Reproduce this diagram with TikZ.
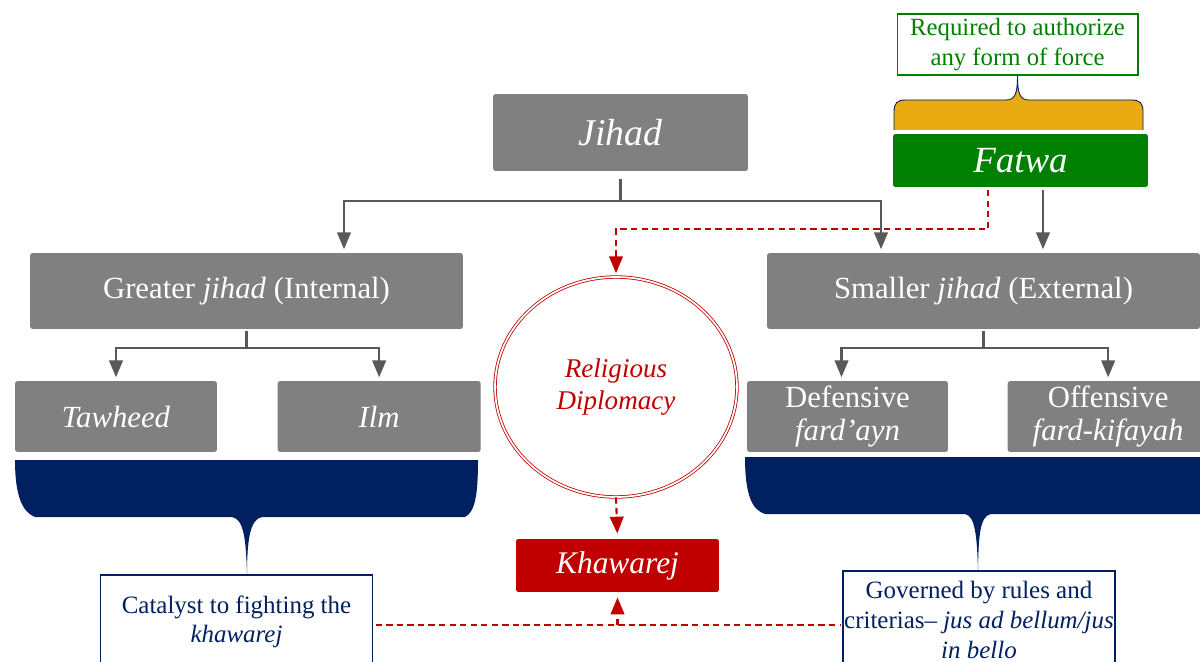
\documentclass[tikz,border=0pt]{standalone}
\usepackage{fontspec}
\setmainfont{Liberation Serif}
\usetikzlibrary{positioning,arrows,shapes.geometric,calc}
\definecolor{myGray}{RGB}{128,128,128}
\definecolor{myLine}{RGB}{89,89,89}
\definecolor{myGreen}{RGB}{0,128,0}
\definecolor{myRed}{RGB}{192,0,0}
\definecolor{myNavy}{RGB}{0,32,96}
\definecolor{myGold}{RGB}{234,171,18}
\tikzset{
  graybox/.style={fill=myGray, text=white, rounded corners=1.5pt, inner sep=0pt,
    align=center, font=\fontsize{17.5}{19}\selectfont},
  notebox/.style={draw=myNavy, line width=0.7pt, fill=white, text=myNavy, inner sep=0pt,
    align=center, font=\fontsize{14.2}{16.9}\selectfont},
  link/.style={myLine, line width=1.2pt},
  dashlink/.style={myRed, line width=1.2pt, dash pattern=on 3.6pt off 2.4pt},
  tip/.style={-triangle 45, shorten >=2pt}
}
\begin{document}
\begin{tikzpicture}[x=0.02cm, y=-0.02cm]
  \useasboundingbox (0,0) rectangle (1200,662);
  \clip (0,0) rectangle (1200,662);
  % top row
  \node[graybox, minimum width=5.1cm, minimum height=1.54cm,
    font=\fontsize{21.5}{24}\selectfont] (jihad) at (620.5,132.5) {\textit{Jihad}};
  \node[graybox, fill=myGreen, rounded corners=1pt, minimum width=5.1cm, minimum height=1.06cm,
    font=\fontsize{21}{24}\selectfont] (fatwa) at (1020.5,160.5) {\textit{Fatwa}};
  \node[draw=myGreen, line width=0.6pt, text=myGreen, inner sep=0pt, align=center,
    minimum width=4.82cm, minimum height=1.22cm, font=\fontsize{14.1}{17}\selectfont]
    (req) at (1017.5,44.5) {Required to authorize\\any form of force};
  % brace over the fatwa
  \filldraw[fill=myGold, draw=myNavy, line width=0.5pt]
    (894,130) -- (894,112) .. controls (894,103) and (897,100) .. (906,100)
    -- (1006,100) .. controls (1015,100) and (1017.5,94) .. (req.south)
    .. controls (1017.5,94) and (1020,100) .. (1029,100)
    -- (1131,100) .. controls (1140,100) and (1143,103) .. (1143,112) -- (1143,130);
  % second row
  \node[graybox, minimum width=8.66cm, minimum height=1.52cm] (greater) at (246.5,291)
    {Greater \textit{jihad} (Internal)};
  \node[graybox, minimum width=8.66cm, minimum height=1.52cm] (smaller) at (983.5,291)
    {Smaller \textit{jihad} (External)};
  % third row
  \node[graybox, minimum width=4.04cm, minimum height=1.42cm] (tawheed) at (116,416.5)
    {\textit{Tawheed}};
  \node[graybox, minimum width=4.06cm, minimum height=1.42cm, right=1.2cm of tawheed] (ilm)
    {\textit{Ilm}};
  \node[graybox, minimum width=4.02cm, minimum height=1.42cm] (defensive) at (847.5,416.5)
    {Defensive\\\textit{fard'ayn}};
  \node[graybox, minimum width=4.02cm, minimum height=1.42cm, right=1.18cm of defensive]
    (offensive) {Offensive\\\textit{fard-kifayah}};
  % centre column
  \node[ellipse, draw=myRed, double, double distance=1pt, line width=0.45pt,
    minimum width=4.84cm, minimum height=4.4cm, inner sep=0pt, align=center, text=myRed,
    font=\fontsize{15.4}{18.7}\selectfont] (relig) at (616,387) {\textit{Religious}\\\textit{Diplomacy}};
  \node[graybox, fill=myRed, rounded corners=1pt, minimum width=4.06cm, minimum height=1.06cm,
    font=\fontsize{17.9}{20}\selectfont] (khawarej) at (617.5,565.5) {\textit{Khawarej}};
  % notes at the bottom
  \node[notebox, minimum width=5.44cm, minimum height=1.88cm] (catalyst) at (236.5,622)
    {Catalyst to fighting the\\\textit{khawarej}};
  \node[notebox, minimum width=5.44cm, minimum height=1.96cm] (governed) at (979,620)
    {Governed by rules and\\criterias-- \textit{jus ad bellum/jus}\\\textit{in bello}};
  % navy braces
  \fill[myNavy] (15,460) -- (478,460) .. controls (478,495) and (475,512) .. (465,517)
    -- (262,517) .. controls (250,519) and (247,540) .. (247,575)
    .. controls (246,540) and (244,519) .. (232,517)
    -- (35,517) .. controls (22,512) and (15,495) .. (15,460) -- cycle;
  \fill[myNavy] (745,457) -- (1215,457) -- (1215,514)
    -- (991,514) .. controls (980,516) and (978.5,535) .. (978,571)
    .. controls (977,535) and (975,516) .. (965,514)
    -- (765,514) .. controls (752,510) and (745,495) .. (745,457) -- cycle;
  % gray connectors
  \draw[link, shorten <=4.5pt] (jihad.south) -- ++(0,30) coordinate (jfork);
  \draw[link, tip] (jfork) -| ($(greater.north)+(97.5,0)$);
  \draw[link, tip] (jfork) -| ($(smaller.north)+(-102.5,0)$);
  \draw[link, tip, shorten <=1.5pt] ($(fatwa.south)+(22.5,0)$) -- ($(fatwa.south |- smaller.north)+(22.5,0)$);
  \draw[link, shorten <=1pt] (greater.south) -- ++(0,19) coordinate (gfork);
  \draw[link, tip] (gfork) -| (tawheed.north);
  \draw[link, tip] (gfork) -| (ilm.north);
  \draw[link, shorten <=1pt] (smaller.south) -- ++(0,19) coordinate (sfork);
  \draw[link, tip] (sfork) -| ($(defensive.north)+(-6,0)$);
  \draw[link, tip] (sfork) -| (offensive.north);
  % red dashed connectors
  \draw[dashlink, tip, shorten <=1.5pt] ($(fatwa.south)+(-32.5,0)$) -- ++(0,42) -| (relig.north);
  \draw[dashlink, tip, shorten >=3pt] (relig.south) -- (khawarej.north);
  \draw[dashlink, shorten <=1.5pt, shorten >=1.5pt] ($(catalyst.east)+(0,3)$) -- ($(catalyst.east -| governed.west)+(0,3)$);
  \draw[dashlink, tip, shorten >=3pt] ($(catalyst.east -| khawarej.south)+(0,3)$) -- (khawarej.south);
\end{tikzpicture}
\end{document}
